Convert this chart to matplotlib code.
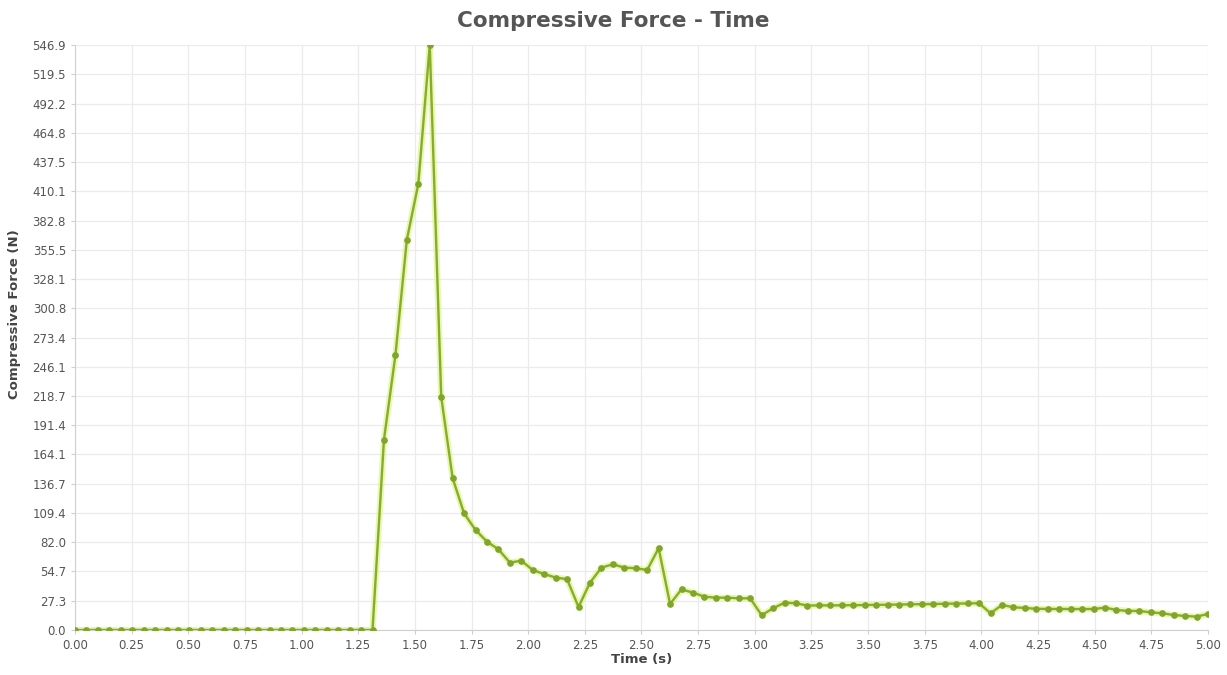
import numpy as np
import matplotlib
matplotlib.use("Agg")
import matplotlib.pyplot as plt

# compressive force samples (N), evenly sampled from 0 to 5 s
force = [
    0, 0, 0, 0, 0, 0, 0, 0, 0, 0,
    0, 0, 0, 0, 0, 0, 0, 0, 0, 0,
    0, 0, 0, 0, 0, 0, 0, 178, 257, 365,
    417, 546.9, 218, 142, 109, 93.5, 82.6, 75.4, 63, 64.8,
    56, 52.3, 49, 47.5, 21.5, 44.2, 58.3, 61.4, 58.3, 57.7,
    56.1, 76.4, 24.3, 38, 34.9, 31.1, 30.2, 30.2, 29.6, 29.6,
    13.8, 20.3, 25.5, 25, 22.8, 23, 23, 23.1, 23.2, 23.3,
    23.5, 23.6, 23.8, 24, 24.1, 24.3, 24.5, 24.7, 24.8, 25,
    15.6, 23.4, 21.2, 20.6, 19.8, 19.7, 19.6, 19.6, 19.6, 19.6,
    20.9, 18.7, 17.8, 17.8, 16.5, 15.6, 14, 13.1, 12.5, 15,
]
t_end = 5.0
dt = t_end / (len(force) - 1)
time = np.arange(len(force)) * dt

y_max = 546.9
y_ticks = [0.0, 27.3, 54.7, 82.0, 109.4, 136.7, 164.1, 191.4, 218.7, 246.1,
           273.4, 300.8, 328.1, 355.5, 382.8, 410.1, 437.5, 464.8, 492.2,
           519.5, 546.9]
x_ticks = [0.00, 0.25, 0.50, 0.75, 1.00, 1.25, 1.50, 1.75, 2.00, 2.25, 2.50,
           2.75, 3.00, 3.25, 3.50, 3.75, 4.00, 4.25, 4.50, 4.75, 5.00]

fig = plt.figure(figsize=(12.27, 6.75), dpi=100)
ax = fig.add_axes([0.0611, 0.0667, 0.9234, 0.8666])

# soft glow under the line, then the line itself
ax.plot(time, force, color="#dcf27e", lw=4.5, alpha=0.6, solid_joinstyle="round", zorder=2)
ax.plot(time, force, color="#86ad2c", lw=1.7, marker="o", ms=3.8,
        mfc="#7fa62a", mec="#7fa62a", zorder=3)

ax.set_xlim(0, t_end)
ax.set_ylim(0, y_max)
ax.set_xticks(x_ticks)
ax.set_xticklabels(["%.2f" % v for v in x_ticks])
ax.set_yticks(y_ticks)
ax.set_yticklabels(["%.1f" % v for v in y_ticks])

ax.grid(True, color="#ebebeb", lw=0.9)
ax.set_axisbelow(True)
for side in ["top", "right"]:
    ax.spines[side].set_visible(False)
for side in ["left", "bottom"]:
    ax.spines[side].set_color("#d0d0d0")
ax.tick_params(colors="#d0d0d0", labelcolor="#555555", labelsize=8.5, length=3)

ax.set_xlabel("Time (s)", fontsize=9.5, fontweight="bold", color="#444444", labelpad=1)
ax.set_ylabel("Compressive Force (N)", fontsize=9.5, fontweight="bold", color="#444444", labelpad=3)
ax.yaxis.set_label_coords(-0.048, 0.54)
fig.suptitle("Compressive Force - Time", y=0.983, fontsize=15.5, fontweight="bold", color="#555555")

fig.savefig("out.png", dpi=100)
